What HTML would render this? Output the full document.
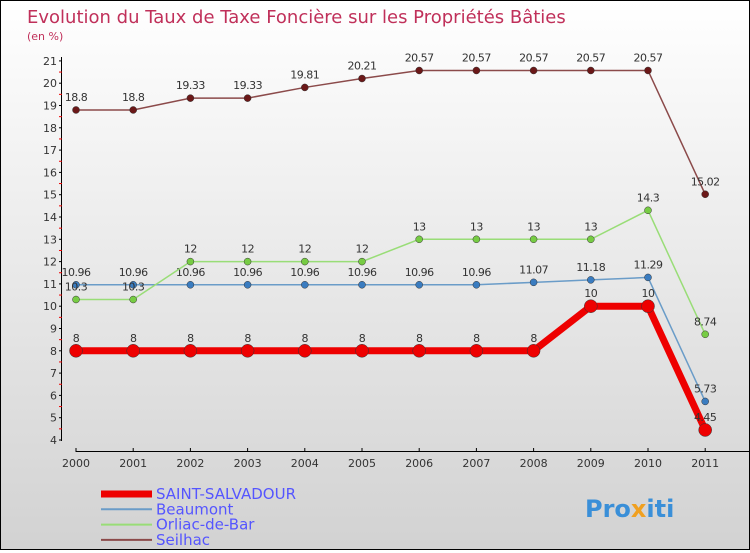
<!DOCTYPE html>
<html><head><meta charset="utf-8"><style>
body{margin:0}
#c{width:748px;height:548px;border:1px solid #000;background:linear-gradient(#ffffff,#d2d2d2);position:relative;font-family:"DejaVu Sans","Liberation Sans",sans-serif}
</style></head><body>
<div id="c">
<svg id="s" width="748" height="548"></svg>
</div>
<script>
const years=["2000","2001","2002","2003","2004","2005","2006","2007","2008","2009","2010","2011"];
const saint=[8,8,8,8,8,8,8,8,8,10,10,4.45];
const beaumont=[10.96,10.96,10.96,10.96,10.96,10.96,10.96,10.96,11.07,11.18,11.29,5.73];
const orliac=[10.3,10.3,12,12,12,12,13,13,13,13,14.3,8.74];
const seilhac=[18.8,18.8,19.33,19.33,19.81,20.21,20.57,20.57,20.57,20.57,20.57,15.02];
const yTicks=[4,5,6,7,8,9,10,11,12,13,14,15,16,17,18,19,20,21];
const NS="http://www.w3.org/2000/svg",s=document.getElementById('s');
const X=i=>75+i*57.2, Y=v=>439-(v-4)*22.3;
function el(t,a,p){const e=document.createElementNS(NS,t);for(const k in a)e.setAttribute(k,a[k]);(p||s).appendChild(e);return e;}
let t=el('text',{x:26,y:22,fill:'#c0305a','font-size':18});t.textContent='Evolution du Taux de Taxe Foncière sur les Propriétés Bâties';

t=el('text',{x:26,y:39,fill:'#c0305a','font-size':11});t.textContent='(en %)';

let a=el('line',{x1:60.5,y1:56,x2:60.5,y2:440,stroke:'#000'});

yTicks.forEach(v=>{el('line',{x1:58,x2:61,y1:Y(v),y2:Y(v),stroke:'#000'});
 if(v<21)el('line',{x1:58,x2:61,y1:Y(v+0.5),y2:Y(v+0.5),stroke:'#e00'});
 const l=el('text',{x:56,y:Y(v)+4,'text-anchor':'end','font-size':11,fill:'#333'});l.textContent=v;
 });
a=el('line',{x1:75,y1:450.5,x2:748,y2:450.5,stroke:'#000'});

years.forEach((y,i)=>{el('line',{x1:X(i),x2:X(i),y1:447,y2:451,stroke:'#000'});
 const l=el('text',{x:X(i),y:466,'text-anchor':'middle','font-size':11,fill:'#333'});l.textContent=y;
 });
function series(d,col,w,r,dot,name){
 const g=el('g',{});
 el('polyline',{points:d.map((v,i)=>X(i)+','+Y(v)).join(' '),fill:'none',stroke:col,'stroke-width':w},g);
 d.forEach((v,i)=>{const c=el('circle',{cx:X(i),cy:Y(v),r:r,fill:dot,stroke:'#333','stroke-width':0.5},g);
 
 const l=el('text',{x:X(i),y:Y(v)-9,'text-anchor':'middle','font-size':11,fill:'#333','letter-spacing':'-0.5'},g);l.textContent=v;});
}
series(seilhac,'#8b4a4a',1.5,3.5,'#6b1818','seilhac-series');
series(beaumont,'#6a9cc8',1.5,3.5,'#3a7cc0','beaumont-series');
series(orliac,'#99dd77',1.5,3.5,'#77cc44','orliac-series');
series(saint,'#ee0000',7,6.5,'#ee0000','saint-salvadour-series');
const leg=[['SAINT-SALVADOUR','#ee0000',7],['Beaumont','#6a9cc8',2],['Orliac-de-Bar','#99dd77',2],['Seilhac','#8b4a4a',2]];
leg.forEach((L,i)=>{const y=492+i*15.3;const g=el('g',{});
 
 el('line',{x1:100,x2:151,y1:y+1,y2:y+1,stroke:L[1],'stroke-width':L[2]},g);
 const tt=el('text',{x:155,y:y+6,'font-size':15,fill:'#5555ff'},g);tt.textContent=L[0];});
const lg=el('text',{x:584,y:516,'font-size':24,'font-weight':'bold',fill:'#3a8fd8'});

lg.innerHTML='Pro<tspan fill="#f0a020">x</tspan>iti';
</script>
</body></html>
